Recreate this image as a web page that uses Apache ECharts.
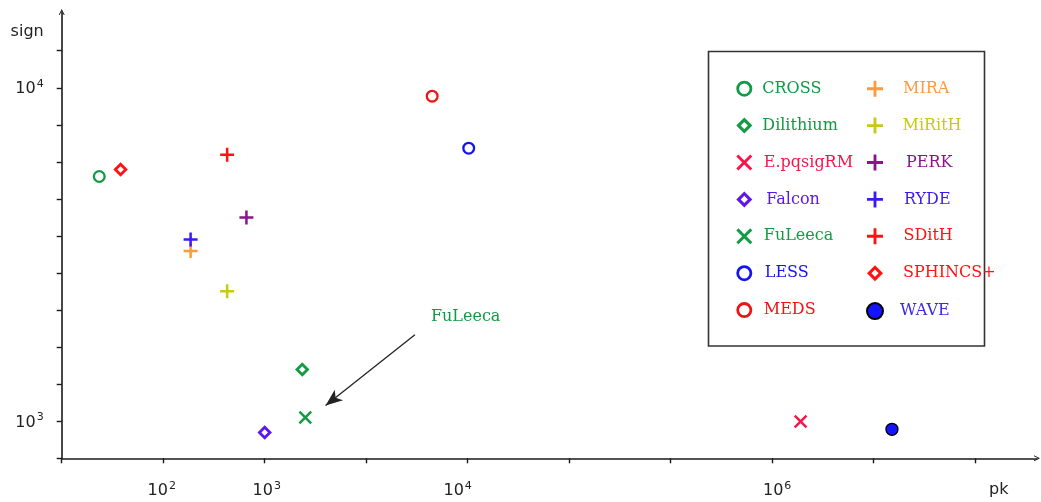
<!DOCTYPE html>
<html>
<head>
<meta charset="utf-8">
<script src="https://cdn.jsdelivr.net/npm/echarts@6/dist/echarts.min.js"></script>
<style>
  html, body { margin: 0; padding: 0; background: #fff; }
  #chart { width: 1041px; height: 502px; }
</style>
</head>
<body>
<div id="chart"></div>
<script>
// schemes, in legend order (left column then right column)
var schemes = ['CROSS', 'Dilithium', 'E.pqsigRM', 'Falcon', 'FuLeeca', 'LESS', 'MEDS',
  'MIRA', 'MiRitH', 'PERK', 'RYDE', 'SDitH', 'SPHINCS+', 'WAVE']
// position along the pk axis, counted in axis ticks
var pkPos = [0.37, 2.37, 7.28, 2.00, 2.40, 4.01, 3.65,
  1.27, 1.63, 1.82, 1.27, 1.63, 0.58, 8.18]
// signature size (log axis)
var signSize = [5420, 1430, 998, 925, 1026, 6590, 9440,
  3240, 2455, 4085, 3510, 6300, 5690, 946]
// pk axis tick labels
var xTickValues = [0, 1, 2, 3, 4, 5, 6, 7, 8, 9]
var xLabelValues = [1, 2, 4, 7]
var xLabelExp = ['2', '3', '4', '6']
// sign axis: ticks every ninth of a decade, labels at the decades
var yTickExp = [26, 27, 28, 29, 30, 31, 32, 33, 34, 35, 36, 37]
var yLabelExp = [3, 4]
// annotation arrow
var noteText = 'FuLeeca'
var noteFrom = [3.48, 1818]
var noteTo = [2.60, 1114]
var noteAt = [3.98, 2060]

var colors = ['#129a44', '#129a44', '#f5164b', '#5a17f0', '#129a44', '#1414ee', '#ee1414',
  '#ff9a3a', '#c9c912', '#8e128e', '#3b1bf2', '#ff1212', '#ff1212', '#1414ff']
var textColors = colors.slice()
textColors[13] = '#3a2ae0'
var shapes = ['o', 'd', 'x', 'd', 'x', 'o', 'o', '+', '+', '+', '+', '+', 'd', 'dot']
// small per-entry nudges of the legend text: [dx, dy]
var legendNudge = [[0, 0], [0, 0.6], [1.5, 0], [4, 0.7], [1.5, 0], [2.5, 4], [1.5, 0.7],
  [10, 3.3], [9.5, 0], [13, 0], [11, 0], [10.5, -3.3], [10, -0.6], [7, -1.7]]
// horizontal nudge of the pk labels (px)
var xLabelShift = [-1.5, 2, -10, 5]

// marker outlines drawn as filled rings (outer path clockwise, hole counter-clockwise)
var RING = 'path://M5,0 A5,5 0 1,1 5,10 A5,5 0 1,1 5,0 Z M5,1.75 A3.25,3.25 0 1,0 5,8.25 A3.25,3.25 0 1,0 5,1.75 Z'
var RHOMB = 'path://M5,0 L10,5 L5,10 L0,5 Z M5,2.75 L2.75,5 L5,7.25 L7.25,5 Z'
var PLUS = 'path://M4.1,0 H5.9 V4.1 H10 V5.9 H5.9 V10 H4.1 V5.9 H0 V4.1 H4.1 Z'
var CROSS = 'path://M1.3,0 L5,3.7 L8.7,0 L10,1.3 L6.3,5 L10,8.7 L8.7,10 L5,6.3 L1.3,10 L0,8.7 L3.7,5 L0,1.3 Z'
var CHEVRON = 'path://M0,10 L5,0 L10,10 L8.4,10 L5,3.2 L1.6,10 Z'

function symbolOf (s) {
  if (s === 'o') return { symbol: RING, size: 13 }
  if (s === 'd') return { symbol: RHOMB, size: 14.5 }
  if (s === '+') return { symbol: PLUS, size: 14 }
  if (s === 'x') return { symbol: CROSS, size: 13.5 }
  return { symbol: 'circle', size: 12 }
}

function itemStyleOf (s, c) {
  if (s === 'dot') return { color: c, borderColor: '#000', borderWidth: 1.3, opacity: 1 }
  return { color: c, borderWidth: 0, opacity: 1 }
}

var labelFont = { fontFamily: 'DejaVu Sans', color: '#222', verticalAlign: 'bottom' }
var supRich = {
  b: Object.assign({ fontSize: 16 }, labelFont),
  s: Object.assign({ fontSize: 11, padding: [0, 0, 8, 1] }, labelFont)
}
xLabelShift.forEach(function (d, k) {
  supRich['b' + k] = Object.assign({ fontSize: 16, padding: [0, 0, 0, Math.max(0, 2 * d)] }, labelFont)
  supRich['s' + k] = Object.assign({ fontSize: 11, padding: [0, Math.max(0, -2 * d), 8, 1] }, labelFont)
})

var series = schemes.map(function (name, i) {
  var sym = symbolOf(shapes[i])
  var s = {
    name: name,
    type: 'scatter',
    symbol: sym.symbol,
    symbolSize: sym.size,
    itemStyle: itemStyleOf(shapes[i], colors[i]),
    emphasis: { disabled: true },
    data: [[pkPos[i], signSize[i]]]
  }
  if (name === noteText) {
    s.markLine = {
      silent: true,
      symbol: ['none', 'arrow'],
      symbolSize: [10, 17],
      lineStyle: { color: '#222', width: 1.3, type: 'solid' },
      label: { show: false },
      data: [[{ coord: noteFrom }, { coord: noteTo }]]
    }
    s.markPoint = {
      silent: true,
      symbolSize: 0,
      label: {
        show: true,
        formatter: noteText,
        fontFamily: 'DejaVu Serif',
        fontSize: 16,
        color: colors[i]
      },
      data: [{ coord: noteAt }]
    }
  }
  return s
})

function legendData (from, to) {
  var out = []
  for (var i = from; i < to; i++) {
    var dx = legendNudge[i][0], dy = legendNudge[i][1]
    out.push({
      name: schemes[i],
      textStyle: {
        color: textColors[i],
        padding: [dy > 0 ? 2 * dy : 0, 0, dy < 0 ? -2 * dy : 0, 5 + dx]
      }
    })
  }
  return out
}

var legendBase = {
  orient: 'vertical',
  top: 80.7,
  itemWidth: 16,
  itemHeight: 16,
  itemGap: 20.9,
  padding: 0,
  selectedMode: false,
  textStyle: { fontFamily: 'DejaVu Serif', fontSize: 16 }
}

var option = {
  animation: false,
  backgroundColor: '#fff',
  grid: { left: 61.7, right: 4, top: 12, bottom: 43.7, containLabel: false },
  xAxis: {
    type: 'value',
    min: 0,
    max: 9.609,
    name: 'pk',
    nameLocation: 'end',
    nameGap: -48,
    nameTextStyle: { fontFamily: 'DejaVu Sans', fontSize: 16, color: '#222', align: 'left', verticalAlign: 'top', padding: [24, 0, 0, 0] },
    axisLine: {
      lineStyle: { color: '#1a1a1a', width: 1.6 },
      symbol: ['none', CHEVRON],
      symbolSize: [8, 6]
    },
    axisTick: { show: true, length: 5, lineStyle: { color: '#1a1a1a', width: 1.4 }, customValues: xTickValues },
    axisLabel: {
      customValues: xLabelValues,
      margin: 22,
      formatter: function (v) {
        var k = xLabelValues.indexOf(Math.round(v))
        return '{b' + k + '|10}{s' + k + '|' + xLabelExp[k] + '}'
      },
      rich: supRich
    },
    splitLine: { show: false }
  },
  yAxis: {
    type: 'log',
    logBase: 10,
    min: Math.pow(10, 26 / 9),
    max: Math.pow(10, 4.2273),
    name: 'sign',
    nameLocation: 'end',
    nameGap: 0,
    nameTextStyle: { fontFamily: 'DejaVu Sans', fontSize: 16, color: '#222', align: 'right', verticalAlign: 'top', padding: [12, 18, 0, 0] },
    axisLine: {
      lineStyle: { color: '#1a1a1a', width: 1.6 },
      symbol: ['none', CHEVRON],
      symbolSize: [8, 6]
    },
    axisTick: {
      show: true,
      length: 5,
      lineStyle: { color: '#1a1a1a', width: 1.4 },
      customValues: yTickExp.map(function (k) { return Math.pow(10, k / 9) })
    },
    axisLabel: {
      customValues: yLabelExp.map(function (e) { return Math.pow(10, e) }),
      margin: 18,
      formatter: function (v) {
        return '{b|10}{s|' + Math.round(Math.log10(v)) + '}'
      },
      rich: supRich
    },
    splitLine: { show: false }
  },
  legend: [
    Object.assign({}, legendBase, { left: 736.3, data: legendData(0, 7) }),
    Object.assign({}, legendBase, { left: 866, data: legendData(7, 14) })
  ],
  // legend frame
  graphic: [{
    type: 'rect',
    z: 0,
    shape: { x: 708.5, y: 51.5, width: 276, height: 294.5 },
    style: { fill: 'none', stroke: '#333', lineWidth: 1.6 }
  }],
  series: series
}

var myChart = echarts.init(document.getElementById('chart'))
myChart.setOption(option)
</script>
</body>
</html>
